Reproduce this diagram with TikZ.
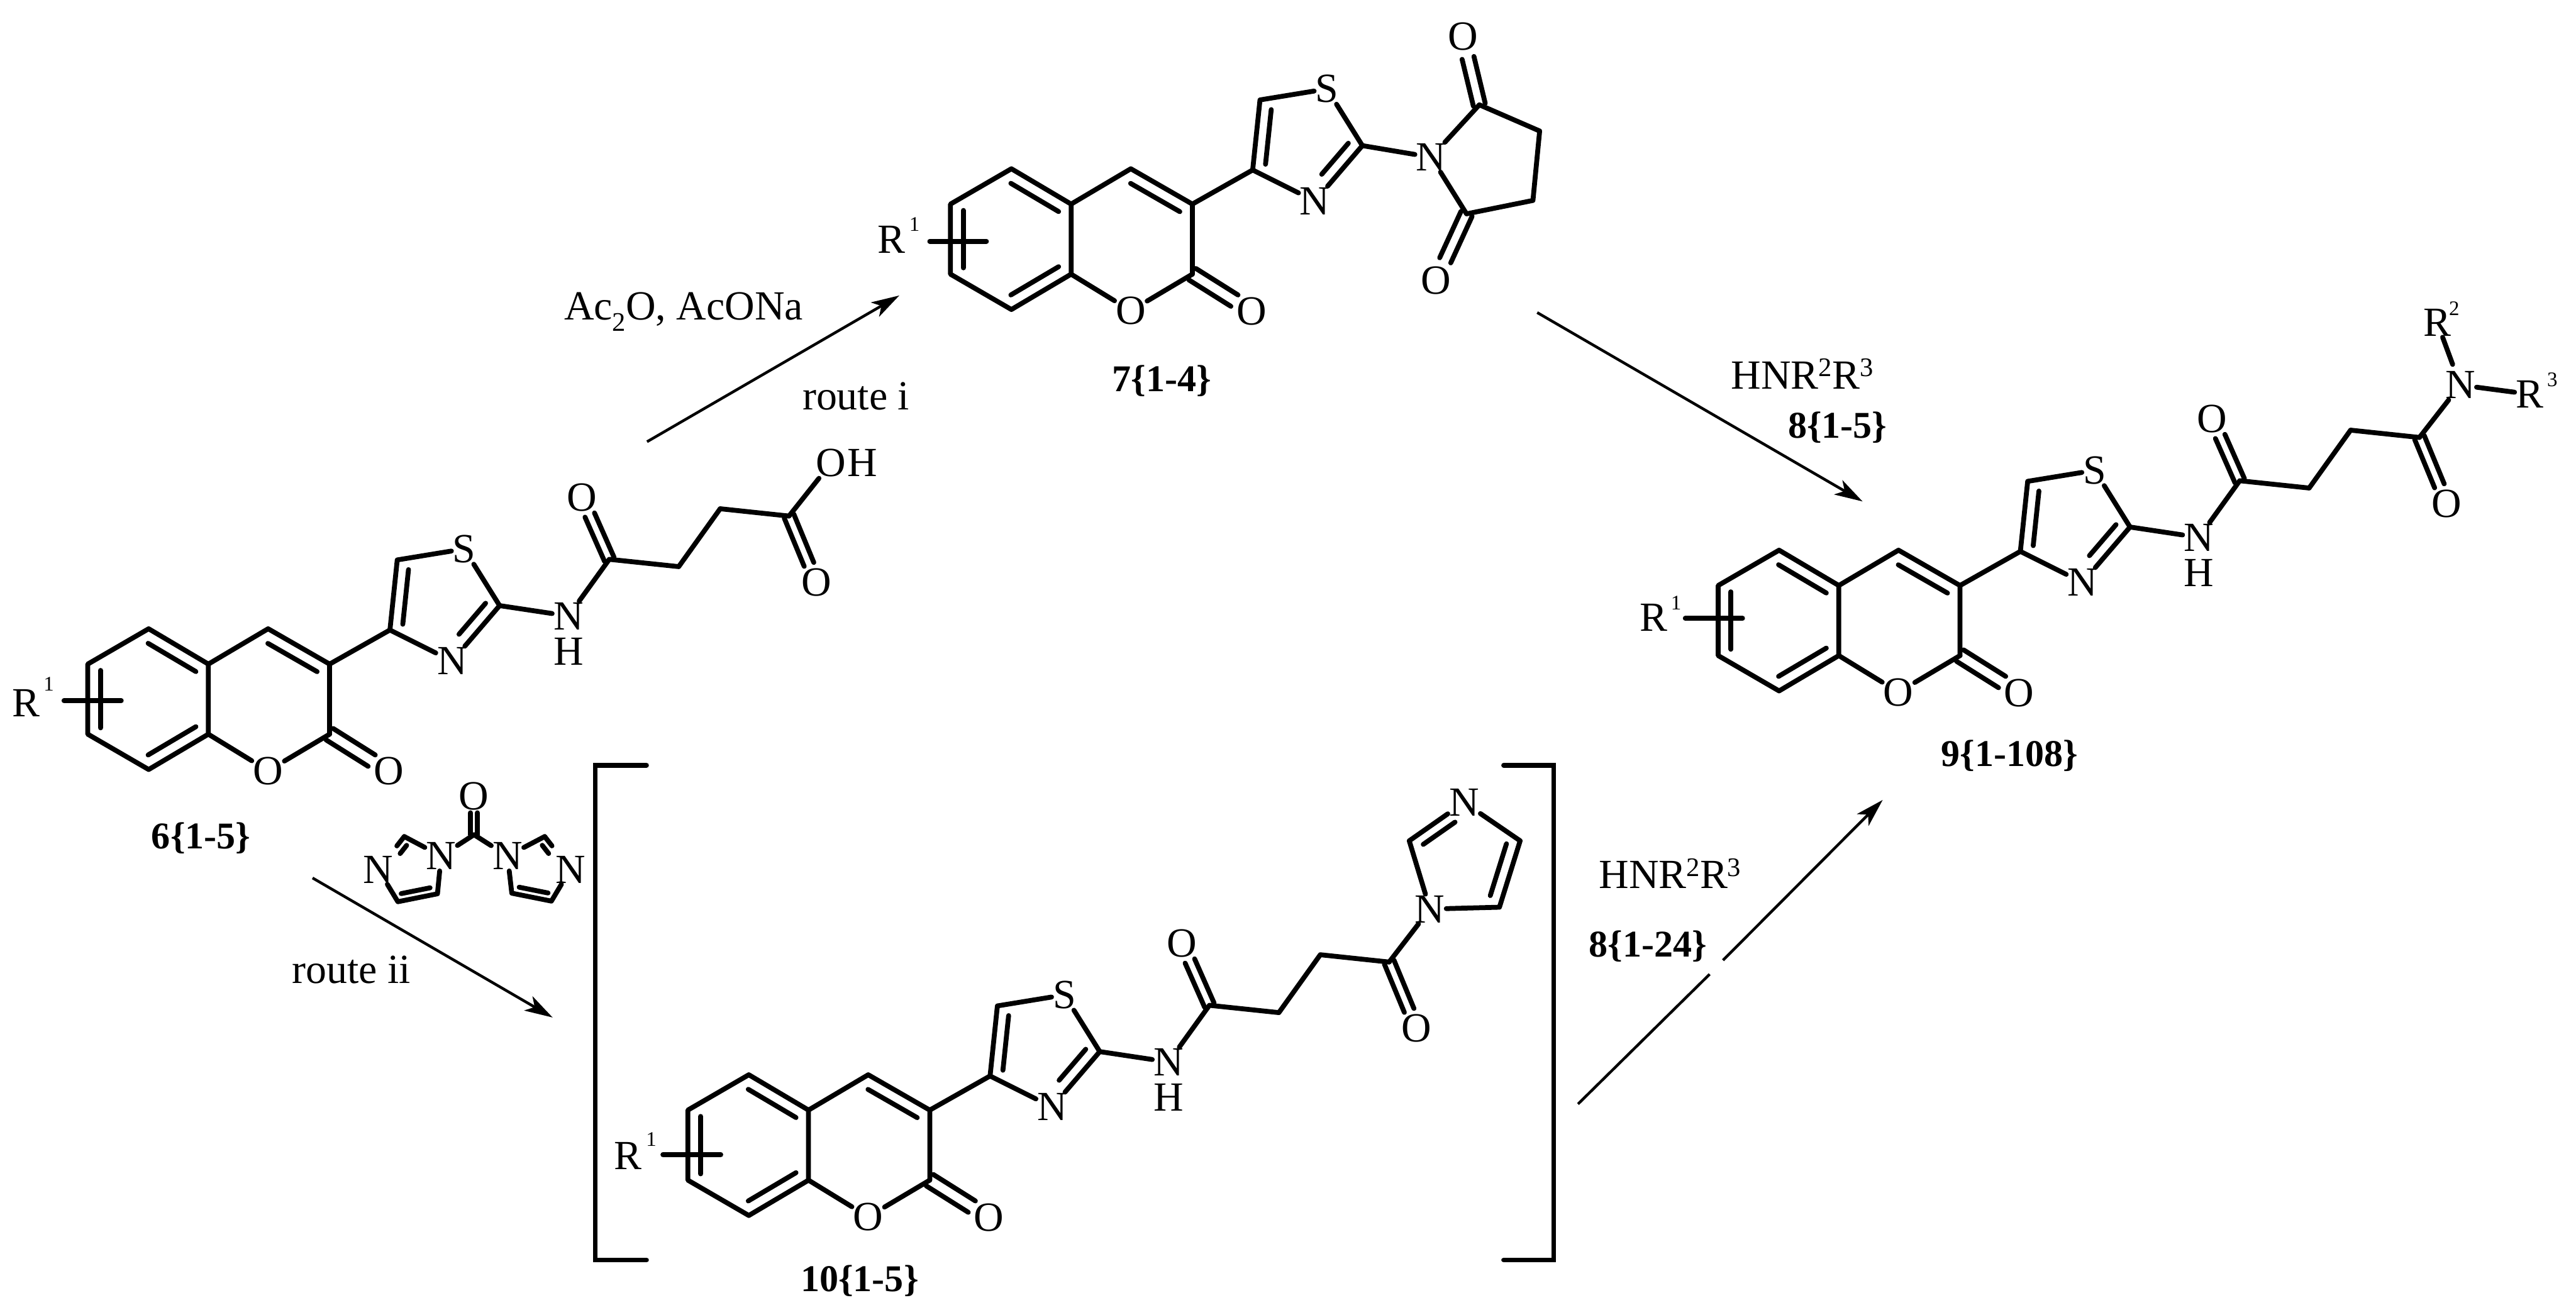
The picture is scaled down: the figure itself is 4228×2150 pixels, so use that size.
\documentclass[tikz,border=0pt]{standalone}
\usepackage{fontspec}
\setmainfont{Liberation Serif}
\usetikzlibrary{calc,arrows.meta}
\newcommand\fsz[1]{\fontsize{#1}{#1}\selectfont}
\newcommand\supr[1]{\raisebox{20pt}{\fsz{44}#1}}
\newcommand\subr[1]{\raisebox{-18pt}{\fsz{44}#1}}
\tikzset{
  bond/.style={line width=8pt,line cap=round,line join=round,draw=black},
  bracket/.style={line width=8pt,line cap=round,line join=miter,draw=black},
  arr/.style={line width=4.5pt,draw=black,-{Stealth[length=46pt,width=27pt,inset=12pt]}},
  arrplain/.style={line width=4.5pt,draw=black},
  atom/.style={font=\fsz{68},inner sep=2pt,text=black},
  supnum/.style={font=\fsz{34},inner sep=0pt,text=black},
  txt/.style={font=\fsz{68},inner sep=0pt,text=black,anchor=base},
  lbl/.style={font=\bfseries\fsz{62},inner sep=0pt,text=black,anchor=base}
}
% inner line of a double bond: a, b, from, to, offset, angle
\newcommand\dbl[6]{\draw[bond] ($(#1)!#3!(#2)!#5pt!#6:(#2)$) -- ($(#1)!#4!(#2)!#5pt!#6:(#2)$);}
% C=O type double bond: a, b, half offset, shortening at b
\newcommand\dco[4]{%
  \draw[bond,shorten >=#4pt] ($(#1)!#3pt!90:(#2)$) -- ($(#2)!#3pt!-90:(#1)$);
  \draw[bond,shorten >=#4pt] ($(#1)!#3pt!-90:(#2)$) -- ($(#2)!#3pt!90:(#1)$);}
% coumarin + thiazole, origin at C4a
\newcommand\core[3]{%
  \begin{scope}[shift={(#2,#3)}]
    \coordinate (#1top) at (-98,-58);
    \coordinate (#1ul) at (-198,0);
    \coordinate (#1ll) at (-198,115);
    \coordinate (#1bot) at (-98,173);
    \coordinate (#1ce) at (0,115);
    \coordinate (#1cd) at (0,0);
    \coordinate (#1cc) at (98,-58);
    \coordinate (#1cb) at (199,0);
    \coordinate (#1ca) at (199,115);
    \node[atom] (#1oa) at (98,175) {O};
    \node[atom] (#1ob) at (296,176) {O};
    \coordinate (#1tc) at (298,-56);
    \coordinate (#1td) at (310,-171);
    \node[atom] (#1ts) at (420,-189) {S};
    \coordinate (#1tb) at (478,-96);
    \node[atom] (#1tn) at (400,-5) {N};
  \end{scope}
  \draw[bond] (#1top) -- (#1ul) -- (#1ll) -- (#1bot) -- (#1ce) -- (#1cd) -- cycle;
  \draw[bond] (#1cd) -- (#1cc) -- (#1cb) -- (#1ca);
  \draw[bond] (#1ca) -- (#1oa);
  \draw[bond] (#1oa) -- (#1ce);
  \draw[bond] (#1cb) -- (#1tc) -- (#1td) -- (#1ts);
  \draw[bond] (#1ts) -- (#1tb) -- (#1tn);
  \draw[bond] (#1tn) -- (#1tc);
  \dbl{#1top}{#1cd}{.10}{.90}{21}{-90}
  \dbl{#1ll}{#1ul}{.09}{.91}{21}{-90}
  \dbl{#1ce}{#1bot}{.10}{.90}{21}{-90}
  \dbl{#1cc}{#1cb}{.10}{.90}{21}{-90}
  \dbl{#1tc}{#1td}{.10}{.88}{20}{-90}
  \dbl{#1tb}{#1tn}{.10}{.66}{20}{-90}
  \dco{#1ca}{#1ob}{11}{33}
}
% amide chain, same origin
\newcommand\chain[3]{%
  \begin{scope}[shift={(#2,#3)}]
    \node[atom] (#1nh) at (591,-79) {N};
    \node[atom] (#1hh) at (591,-21) {H};
    \coordinate (#1co) at (658,-172);
    \node[atom] (#1oc) at (613,-274) {O};
    \coordinate (#1ma) at (772,-160);
    \coordinate (#1mb) at (840,-255);
    \coordinate (#1cp) at (953,-243);
    \node[atom] (#1op) at (998,-134) {O};
  \end{scope}
  \draw[bond] (#1tb) -- (#1nh);
  \draw[bond] (#1nh) -- (#1co) -- (#1ma) -- (#1mb) -- (#1cp);
  \dco{#1co}{#1oc}{8.5}{32}
  \dco{#1cp}{#1op}{8.5}{32}
}
\begin{document}
\begin{tikzpicture}[x=1pt,y=-1pt]
\useasboundingbox (0,0) rectangle (4228,2150);
\fill[white] (0,0) rectangle (4228,2150);

% --- compound 6
\core{a}{342}{1090}
\chain{a}{342}{1090}
\node[atom] (aoh) at (1364,760) {O};
\node[atom,anchor=west,inner sep=0pt] (ahh) at (aoh.east) {H};
\draw[bond] (acp) -- (aoh);
\node[atom] (ar) at (43,1154) {R};
\node[supnum] (as) at (80,1123) {1};
\coordinate (abl) at (105,1150);
\coordinate (abr) at (199,1150);
\draw[bond] (abl) -- (abr);
\node[lbl] (alab) at (330,1393) {6\{1-5\}};

% --- compound 7
\core{b}{1758}{335}
\node[atom] (bn) at (2349,258) {N};
\coordinate (bc1) at (2428,172);
\node[atom] (bo1) at (2401,60) {O};
\coordinate (bm1) at (2527,215);
\coordinate (bm2) at (2516,329);
\coordinate (bc2) at (2407,351);
\node[atom] (bo2) at (2357,460) {O};
\draw[bond] (btb) -- (bn);
\draw[bond] (bn) -- (bc1) -- (bm1) -- (bm2) -- (bc2) -- (bn);
\dco{bc1}{bo1}{10}{36}
\dco{bc2}{bo2}{10}{36}
\node[atom] (br) at (1463,393) {R};
\node[supnum] (bs) at (1501,368) {1};
\coordinate (bbl) at (1526,396);
\coordinate (bbr) at (1619,396);
\draw[bond] (bbl) -- (bbr);
\node[lbl] (blab) at (1907,643) {7\{1-4\}};

% --- compound 9
\core{c}{3018}{961}
\chain{c}{3018}{961}
\node[atom] (cn) at (4038,632) {N};
\node[atom] (cr2) at (4000,529) {R};
\node[supnum] (cs2) at (4028,506) {2};
\node[atom] (cr3) at (4152,647) {R};
\node[supnum] (cs3) at (4189,623) {3};
\draw[bond] (ccp) -- (cn);
\draw[bond,shorten >=10pt] (cr2) -- (cn);
\draw[bond] (cn) -- (cr3);
\node[atom] (cr) at (2714,1014) {R};
\node[supnum] (cs) at (2751,990) {1};
\coordinate (cbl) at (2766,1015);
\coordinate (cbr) at (2860,1015);
\draw[bond] (cbl) -- (cbr);
\node[lbl] (clab) at (3298,1258) {9\{1-108\}};

% --- compound 10
\core{d}{1327}{1822}
\chain{d}{1327}{1822}
\node[atom] (dna) at (2347,1492) {N};
\coordinate (dc5) at (2461,1489);
\coordinate (dc4) at (2495,1380);
\node[atom] (dnc) at (2403,1317) {N};
\coordinate (dc2) at (2313,1380);
\draw[bond] (dcp) -- (dna);
\draw[bond] (dna) -- (dc5) -- (dc4) -- (dnc);
\draw[bond] (dnc) -- (dc2) -- (dna);
\dbl{dc2}{dnc}{.14}{.72}{18}{-90}
\dbl{dc4}{dc5}{.10}{.88}{20}{-90}
\node[atom] (dr) at (1031,1897) {R};
\node[supnum] (ds) at (1069,1870) {1};
\coordinate (dbl) at (1088,1895);
\coordinate (dbr) at (1183,1895);
\draw[bond] (dbl) -- (dbr);
\node[lbl] (dlab) at (1411,2120) {10\{1-5\}};

% brackets
\coordinate (bla) at (1061,1256);
\coordinate (blb) at (977,1256);
\coordinate (blc) at (977,2068);
\coordinate (bld) at (1061,2068);
\coordinate (bra) at (2468,1256);
\coordinate (brb) at (2550,1256);
\coordinate (brc) at (2550,2068);
\coordinate (brd) at (2468,2068);
\draw[bracket] (bla) -- (blb) -- (blc) -- (bld);
\draw[bracket] (bra) -- (brb) -- (brc) -- (brd);

% --- CDI
\node[atom] (eo) at (778,1307) {O};
\coordinate (ec) at (778,1370);
\node[atom] (enl) at (724,1405) {N};
\node[atom] (enr) at (833,1405) {N};
\coordinate (el2) at (663.5,1373);
\node[atom] (el3) at (621,1427) {N};
\coordinate (el4) at (653,1480);
\coordinate (el5) at (718,1467);
\coordinate (er2) at (894,1373);
\node[atom] (er3) at (936,1427) {N};
\coordinate (er4) at (905,1479);
\coordinate (er5) at (840,1466);
\dco{ec}{eo}{5.7}{27}
\draw[bond] (enl) -- (ec) -- (enr);
\draw[bond] (enl) -- (el2);
\draw[bond,shorten >=18pt] (el2) -- (el3);
\draw[bond] (el3) -- (el4) -- (el5) -- (enl);
\draw[bond] (enr) -- (er2);
\draw[bond,shorten >=18pt] (er2) -- (er3);
\draw[bond] (er3) -- (er4) -- (er5) -- (enr);
\dbl{el5}{el4}{.15}{.88}{12}{-90}
\dbl{el3}{el2}{.62}{.87}{12}{-90}
\dbl{er4}{er5}{.12}{.85}{12}{-90}
\dbl{er2}{er3}{.13}{.38}{12}{-90}

% --- arrows and reagents
\coordinate (ar1s) at (1062,725);
\coordinate (ar1e) at (1476,485);
\draw[arr] (ar1s) -- (ar1e);
\coordinate (ar2s) at (2523,513);
\coordinate (ar2e) at (3057,823);
\draw[arr] (ar2s) -- (ar2e);
\coordinate (ar3s) at (513,1441);
\coordinate (ar3e) at (907,1670);
\draw[arr] (ar3s) -- (ar3e);
\coordinate (ar4s) at (2590,1812);
\coordinate (ar4g) at (2806,1599);
\coordinate (ar4h) at (2828,1576);
\coordinate (ar4e) at (3090,1313);
\draw[arrplain] (ar4s) -- (ar4g);
\draw[arr] (ar4h) -- (ar4e);

\node[txt] (t1) at (1122,525) {Ac\subr{2}O, AcONa};
\node[txt] (t2) at (1405,673) {route i};
\node[txt] (t3) at (577,1614) {route ii};
\node[txt] (t4) at (2958,638) {HNR\supr{2}R\supr{3}};
\node[lbl] (t5) at (3016,719) {8\{1-5\}};
\node[txt] (t6) at (2741,1458) {HNR\supr{2}R\supr{3}};
\node[lbl] (t7) at (2705,1571) {8\{1-24\}};
\end{tikzpicture}
\end{document}
